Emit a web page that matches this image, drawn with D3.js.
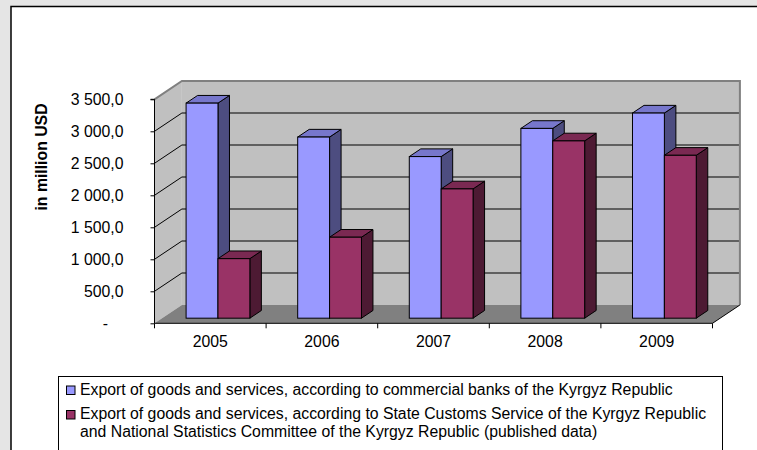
<!DOCTYPE html>
<html>
<head>
<meta charset="utf-8">
<script src="https://cdn.jsdelivr.net/npm/d3@7/dist/d3.min.js"></script>
<style>
  html, body { margin: 0; padding: 0; background: #e5e5e5; }
  svg { display: block; font-family: Arial, "Liberation Sans", sans-serif; }
</style>
</head>
<body>
<svg id="chart" width="757" height="450"></svg>
<script>
// ---- data ----
const categories = ["2005", "2006", "2007", "2008", "2009"];
const seriesNames = [
  "Export of goods and services, according to commercial banks of the Kyrgyz Republic",
  "Export of goods and services, according to State Customs Service of the Kyrgyz Republic and National Statistics Committee of the Kyrgyz Republic (published data)"
];
const banksValues   = [3360, 2830, 2525, 2965, 3205];
const customsValues = [930, 1265, 2020, 2770, 2545];
const yTicks = [0, 500, 1000, 1500, 2000, 2500, 3000, 3500];
const legendLines = [
  ["Export of goods and services, according to commercial banks of the Kyrgyz Republic"],
  ["Export of goods and services, according to State Customs Service of the Kyrgyz Republic",
   "and National Statistics Committee of the Kyrgyz Republic (published data)"]
];

const FS = 15.8;
const FONT = "Arial, 'Liberation Sans', sans-serif";
const svg = d3.select("#chart");

// background panel
svg.append("rect").attr("x", 0).attr("y", 0).attr("width", 757).attr("height", 450).attr("fill", "#e5e5e5");
svg.append("rect").attr("x", 11).attr("y", 6.5).attr("width", 800).attr("height", 500)
  .attr("fill", "#fff").attr("stroke", "#000").attr("stroke-width", 1.5);

// scales
const x0 = 154.5, x1 = 712.5, yBottom = 323.3, yTop = 99.3;
const depth = { dx: 27.4, dy: -18.3 };
const x = d3.scaleBand().domain(categories).range([x0, x1]).padding(0);
const y = d3.scaleLinear().domain([0, 3500]).range([yBottom, yTop]);
const xs = d3.scaleBand().domain([0, 1]).range([0, x.bandwidth()]).paddingInner(0).paddingOuter(0.75);

const g = svg.append("g");

// back wall
g.append("rect")
  .attr("x", x0 + depth.dx).attr("y", y(3500) + depth.dy)
  .attr("width", x1 - x0).attr("height", y(0) - y(3500))
  .attr("fill", "#c0c0c0");
// side wall
g.append("polygon")
  .attr("points", [[x0, y(3500)], [x0 + depth.dx, y(3500) + depth.dy], [x0 + depth.dx, y(0) + depth.dy], [x0, y(0)]].join(" "))
  .attr("fill", "#c0c0c0");
// floor
g.append("polygon")
  .attr("points", [[x0, y(0)], [x1, y(0)], [x1 + depth.dx, y(0) + depth.dy], [x0 + depth.dx, y(0) + depth.dy]].join(" "))
  .attr("fill", "#808080");

// gridlines
const gridVals = yTicks.filter(v => v > 0 && v < 3500);
g.selectAll(".gridH").data(gridVals).enter().append("line")
  .attr("x1", x0 + depth.dx).attr("x2", x1 + depth.dx)
  .attr("y1", d => y(d) + depth.dy).attr("y2", d => y(d) + depth.dy)
  .attr("stroke", "#000").attr("stroke-width", 1);
g.selectAll(".gridD").data(gridVals).enter().append("line")
  .attr("x1", x0).attr("x2", x0 + depth.dx)
  .attr("y1", d => y(d)).attr("y2", d => y(d) + depth.dy)
  .attr("stroke", "#000").attr("stroke-width", 1);

// back wall border (top + right) and side wall top
g.append("polyline")
  .attr("points", [[x0, y(3500)], [x0 + depth.dx, y(3500) + depth.dy], [x1 + depth.dx, y(3500) + depth.dy], [x1 + depth.dx, y(0) + depth.dy]].join(" "))
  .attr("fill", "none").attr("stroke", "#808080").attr("stroke-width", 2);
// floor right edge
g.append("line")
  .attr("x1", x1).attr("y1", y(0)).attr("x2", x1 + depth.dx).attr("y2", y(0) + depth.dy)
  .attr("stroke", "#000").attr("stroke-width", 1);

// bars
const fShift = 0.28, bShift = 0.70;
const colors = [
  { front: "#9999ff", top: "#7777cc", side: "#4d4d80" },
  { front: "#993366", top: "#7a2952", side: "#4d1a33" }
];
const barData = [];
categories.forEach((c, i) => {
  [banksValues[i], customsValues[i]].forEach((v, s) => barData.push({ c, s, v }));
});
const bw = xs.bandwidth();
const fdx = depth.dx * fShift, fdy = depth.dy * fShift;
const ddx = depth.dx * (bShift - fShift), ddy = depth.dy * (bShift - fShift);
const bars = g.selectAll(".bar").data(barData).enter().append("g");
bars.each(function (d) {
  const el = d3.select(this);
  const left = x(d.c) + xs(d.s) + fdx;
  const right = left + bw;
  const top = y(d.v) + fdy;
  const bottom = y(0) + fdy;
  const col = colors[d.s];
  el.append("polygon")
    .attr("points", [[right, top], [right + ddx, top + ddy], [right + ddx, bottom + ddy], [right, bottom]].join(" "))
    .attr("fill", col.side).attr("stroke", "#000").attr("stroke-width", 1).attr("stroke-linejoin", "round");
  el.append("polygon")
    .attr("points", [[left, top], [left + ddx, top + ddy], [right + ddx, top + ddy], [right, top]].join(" "))
    .attr("fill", col.top).attr("stroke", "#000").attr("stroke-width", 1).attr("stroke-linejoin", "round");
  el.append("rect")
    .attr("x", left).attr("y", top).attr("width", bw).attr("height", bottom - top)
    .attr("fill", col.front).attr("stroke", "#000").attr("stroke-width", 1);
});

// y axis
const fmt = d3.formatLocale({ decimal: ",", thousands: " ", grouping: [3], currency: ["", ""] }).format(",.1f");
const yAxis = d3.axisLeft(y).tickValues(yTicks).tickSize(4).tickPadding(27)
  .tickFormat(d => d === 0 ? "-" : fmt(d));
const yg = svg.append("g").attr("transform", `translate(${x0},0)`).call(yAxis);
yg.select(".domain").attr("stroke", "#000").attr("d", `M-4,${yTop}H0V${yBottom}`);
yg.selectAll(".tick line").attr("stroke", "#000");
yg.selectAll(".tick text").attr("fill", "#000").attr("font-size", FS).attr("font-family", FONT);
yg.selectAll(".tick").filter(d => d === 0).select("text").attr("dx", -15.5);

// x axis
const xAxis = d3.axisBottom(x).tickSize(0).tickPadding(12);
const xg = svg.append("g").attr("transform", `translate(0,${yBottom})`).call(xAxis);
xg.select(".domain").attr("stroke", "#000").attr("d", `M${x0},0H${x1}`);
xg.selectAll(".tick text").attr("fill", "#000").attr("font-size", FS).attr("font-family", FONT);
const bounds = categories.map(c => x(c)).concat([x(categories[categories.length - 1]) + x.bandwidth()]);
xg.selectAll(".bnd").data(bounds).enter().append("line")
  .attr("x1", d => d).attr("x2", d => d).attr("y1", 0).attr("y2", 5)
  .attr("stroke", "#000");

// y title
svg.append("text")
  .attr("transform", "translate(41,157) rotate(-90)")
  .attr("text-anchor", "middle").attr("dominant-baseline", "central")
  .attr("font-size", FS).attr("font-weight", "bold").attr("fill", "#000").attr("font-family", FONT)
  .text("in million USD");

// legend
const lg = svg.append("g");
lg.append("rect").attr("x", 58.5).attr("y", 376.5).attr("width", 664).attr("height", 100)
  .attr("fill", "#fff").attr("stroke", "#000").attr("stroke-width", 1);
const legendY = [395, 418.5];
const iconY = [386, 410.5];
legendLines.forEach((lines, i) => {
  lg.append("rect").attr("x", 66.5).attr("y", iconY[i]).attr("width", 8.5).attr("height", 8.5)
    .attr("fill", colors[i].front).attr("stroke", "#000").attr("stroke-width", 1);
  const t = lg.append("text").attr("x", 80).attr("y", legendY[i])
    .attr("font-size", FS).attr("fill", "#000").attr("font-family", FONT);
  lines.forEach((ln, j) => {
    t.append("tspan").attr("x", 80).attr("dy", j === 0 ? 0 : 18.5).text(ln);
  });
});
</script>
</body>
</html>
